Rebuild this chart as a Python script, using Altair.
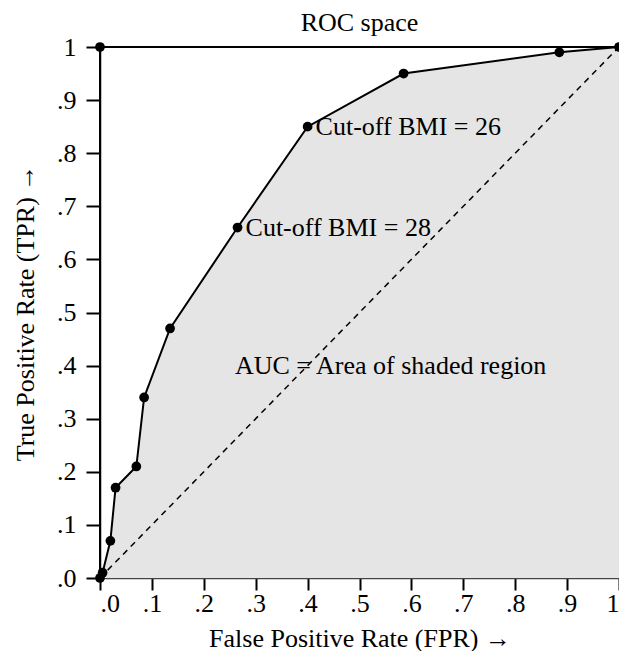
import altair as alt
import pandas as pd

fpr = [0.0, 0.005, 0.02, 0.03, 0.07, 0.085, 0.135, 0.265, 0.40, 0.585, 0.885, 1.0]
tpr = [0.0, 0.01, 0.07, 0.17, 0.21, 0.34, 0.47, 0.66, 0.85, 0.95, 0.99, 1.0]

perfect_x = [0.0, 0.0, 1.0]
perfect_y = [0.0, 1.0, 1.0]

diag_x = [0.0, 1.0]
diag_y = [0.0, 1.0]

ann_text = ["Cut-off BMI = 26", "Cut-off BMI = 28"]
ann_x = [0.40, 0.265]
ann_y = [0.85, 0.66]

auc_text = ["AUC = Area of shaded region"]
auc_x = [0.56]
auc_y = [0.40]

ticks = [0.0, 0.1, 0.2, 0.3, 0.4, 0.5, 0.6, 0.7, 0.8, 0.9, 1.0]

FONT = "Liberation Serif"
FS = 26

roc = pd.DataFrame({"fpr": fpr, "tpr": tpr})
perf = pd.DataFrame({"fpr": perfect_x, "tpr": perfect_y})
diag = pd.DataFrame({"fpr": diag_x, "tpr": diag_y})
ann = pd.DataFrame({"fpr": ann_x, "tpr": ann_y, "t": ann_text})
auc = pd.DataFrame({"fpr": auc_x, "tpr": auc_y, "t": auc_text})

label_expr = "datum.value == 1 ? '1' : '.' + format(round(datum.value * 10), 'd')"

xs = alt.Scale(domain=[0, 1], nice=False, zero=False)
ys = alt.Scale(domain=[0, 1], nice=False, zero=False)

xenc = alt.X("fpr:Q", scale=xs, title="False Positive Rate (FPR) \u2192",
             axis=alt.Axis(values=ticks, labelExpr=label_expr, grid=False,
                           tickSize=12, tickWidth=2, tickColor="black",
                           domainColor="#444", domainWidth=1.5,
                           labelPadding=0, titlePadding=9))
yenc = alt.Y("tpr:Q", scale=ys, title="True Positive Rate (TPR) \u2192",
             axis=alt.Axis(values=ticks, labelExpr=label_expr, grid=False,
                           tickSize=14, tickWidth=2, tickColor="black",
                           domainColor="black", domainWidth=1.5,
                           labelPadding=10, titlePadding=18))

area = alt.Chart(roc).mark_area(color="#e5e5e5", opacity=1).encode(x=xenc, y=yenc)

diag_line = alt.Chart(diag).mark_line(color="black", strokeDash=[6, 5], strokeWidth=1.5).encode(
    x="fpr:Q", y="tpr:Q")

perf_line = alt.Chart(perf).mark_line(color="black", strokeWidth=2).encode(
    x="fpr:Q", y="tpr:Q", order=alt.Order("fpr:Q", sort="ascending"))

roc_line = alt.Chart(roc).mark_line(color="black", strokeWidth=2).encode(x="fpr:Q", y="tpr:Q")

roc_pts = alt.Chart(roc).mark_circle(color="black", size=95, opacity=1).encode(x="fpr:Q", y="tpr:Q")

perf_pts = alt.Chart(pd.DataFrame({"fpr": [perfect_x[1]], "tpr": [perfect_y[1]]})).mark_circle(
    color="black", size=95, opacity=1).encode(x="fpr:Q", y="tpr:Q")

ann_txt = alt.Chart(ann).mark_text(align="left", baseline="middle", dx=8, font=FONT,
                                   fontSize=FS, color="black").encode(x="fpr:Q", y="tpr:Q", text="t:N")

auc_txt = alt.Chart(auc).mark_text(align="center", baseline="middle", font=FONT,
                                   fontSize=FS, color="black").encode(x="fpr:Q", y="tpr:Q", text="t:N")

chart = alt.layer(area, diag_line, perf_line, roc_line, roc_pts, perf_pts, ann_txt, auc_txt).properties(
    width=519, height=531,
    title=alt.TitleParams("ROC space", font=FONT, fontSize=FS, fontWeight="normal",
                          anchor="middle", offset=-2, color="black"),
    autosize=alt.AutoSizeParams(type="none"),
    padding={"left": 92, "top": 39, "right": 0, "bottom": 73},
).configure_view(stroke=None).configure_axis(
    labelFont=FONT, labelFontSize=FS, labelColor="black",
    titleFont=FONT, titleFontSize=FS, titleFontWeight="normal", titleColor="black",
)

chart.save("out.html", embed_options={"renderer": "svg", "actions": False})
